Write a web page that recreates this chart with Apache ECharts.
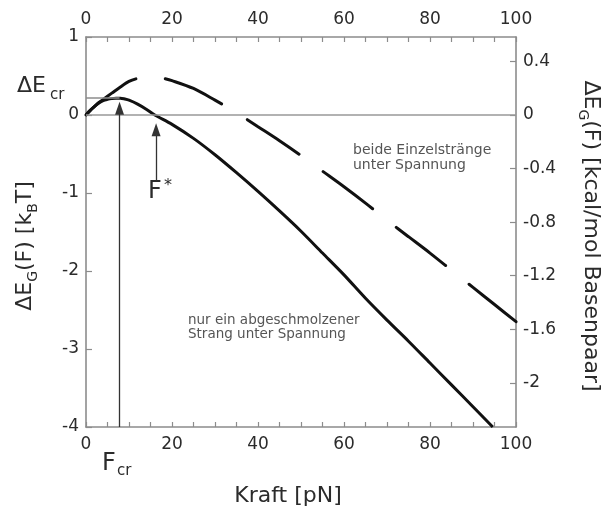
<!DOCTYPE html>
<html>
<head>
<meta charset="utf-8">
<script src="https://cdn.jsdelivr.net/npm/echarts@6/dist/echarts.min.js"></script>
<style>
  html, body { margin: 0; padding: 0; background: #fff; }
  #chart { width: 603px; height: 512px; }
</style>
</head>
<body>
<div id="chart"></div>
<script>
// Force in pN, energy in k_B T
const forceBoth = [0, 1, 2, 3, 4, 6, 8, 10, 12, 14, 16, 18, 20, 25, 30, 35, 40, 45, 50, 55, 60, 65, 70, 75, 80, 85, 90, 95, 100];
const energyBoth = [0, 0.06, 0.11, 0.16, 0.2, 0.28, 0.36, 0.43, 0.47, 0.49, 0.49, 0.47, 0.44, 0.34, 0.19, 0.03, -0.15, -0.33, -0.52, -0.72, -0.92, -1.13, -1.35, -1.56, -1.77, -1.99, -2.21, -2.43, -2.65];

const forceSingle = [0, 1, 2, 3, 4, 5, 6, 7, 8, 9, 10, 12, 14, 16, 20, 25, 30, 35, 40, 45, 50, 55, 60, 65, 70, 75, 80, 85, 90, 94.6];
const energySingle = [0, 0.06, 0.11, 0.155, 0.185, 0.2, 0.21, 0.215, 0.215, 0.205, 0.19, 0.14, 0.075, 0, -0.12, -0.30, -0.51, -0.74, -0.98, -1.23, -1.49, -1.77, -2.05, -2.35, -2.63, -2.90, -3.18, -3.46, -3.74, -4.0];

// Axis ticks
const forceTicks = [0, 20, 40, 60, 80, 100];
const forceMinorTicks = [0, 5, 10, 15, 20, 25, 30, 35, 40, 45, 50, 55, 60, 65, 70, 75, 80, 85, 90, 95, 100];
const ktTicks = [-4, -3, -2, -1, 0, 1];
const kcalTicks = [0.4, 0, -0.4, -0.8, -1.2, -1.6, -2];

// Characteristic points
const Fcr = 7.8;
const Fstar = 16.3;
const dEcr = 0.215;

// 1 k_B T expressed in kcal/mol
const kcalPerKT = 0.5825;

const FONT = 'DejaVu Sans';
const AXIS_GRAY = '#8c8c8c';
const TEXT = '#2b2b2b';

const pairs = (xs, ys) => xs.map((x, i) => [x, ys[i]]);

const chart = echarts.init(document.getElementById('chart'), null, { renderer: 'canvas' });

const axisLine = { show: true, onZero: false, lineStyle: { color: AXIS_GRAY, width: 1.6 } };
const tickStyle = { lineStyle: { color: AXIS_GRAY, width: 1.2 } };
const labelStyle = { color: TEXT, fontFamily: FONT, fontSize: 17 };

const xAxisBase = {
  type: 'value', min: forceTicks[0], max: forceTicks[forceTicks.length - 1], interval: 5,
  axisLine: axisLine,
  axisTick: Object.assign({ inside: true, length: 5, customValues: forceMinorTicks }, tickStyle),
  minorTick: { show: false },
  splitLine: { show: false },
  axisLabel: Object.assign({ margin: 9, customValues: forceTicks, formatter: v => String(v) }, labelStyle)
};

const option = {
  animation: false,
  backgroundColor: '#fff',
  grid: { left: 86, right: 87, top: 37, bottom: 85 },
  xAxis: [
    Object.assign({ position: 'bottom' }, xAxisBase),
    Object.assign({ position: 'top' }, xAxisBase)
  ],
  yAxis: [
    {
      type: 'value', position: 'left', min: ktTicks[0], max: ktTicks[ktTicks.length - 1], interval: 1,
      axisLine: axisLine,
      axisTick: Object.assign({ inside: true, length: 6, customValues: ktTicks }, tickStyle),
      minorTick: { show: false },
      splitLine: { show: false },
      axisLabel: Object.assign({ margin: 7, customValues: ktTicks, formatter: v => String(v) }, labelStyle)
    },
    {
      type: 'value', position: 'right',
      min: ktTicks[0] * kcalPerKT, max: ktTicks[ktTicks.length - 1] * kcalPerKT,
      axisLine: axisLine,
      axisTick: Object.assign({ inside: true, length: 6, customValues: kcalTicks }, tickStyle),
      minorTick: { show: false },
      splitLine: { show: false },
      axisLabel: Object.assign({ margin: 7, customValues: kcalTicks, formatter: v => String(v) }, labelStyle)
    }
  ],
  series: [
    {
      name: 'beide Einzelstränge unter Spannung',
      type: 'line', xAxisIndex: 0, yAxisIndex: 0,
      data: pairs(forceBoth, energyBoth),
      showSymbol: false, smooth: 0.3,
      lineStyle: { color: '#111', width: 3, type: [62, 30], cap: 'round' }
    },
    {
      name: 'nur ein abgeschmolzener Strang unter Spannung',
      type: 'line', xAxisIndex: 0, yAxisIndex: 0,
      data: pairs(forceSingle, energySingle),
      showSymbol: false, smooth: 0.3,
      lineStyle: { color: '#111', width: 3 }
    },
    {
      // reference lines and arrows
      type: 'line', xAxisIndex: 0, yAxisIndex: 0, data: [], clip: false,
      markLine: {
        silent: true, animation: false,
        symbol: ['none', 'none'],
        label: { show: false },
        data: [
          [
            { coord: [0, 0], lineStyle: { color: '#999', width: 1.6, type: 'solid' } },
            { coord: [100, 0] }
          ],
          [
            { coord: [0, dEcr], lineStyle: { color: '#8c8c8c', width: 1.6, type: 'solid' } },
            { coord: [Fcr, dEcr] }
          ],
          [
            { coord: [Fcr, -4], lineStyle: { color: '#333', width: 1.3, type: 'solid' } },
            { coord: [Fcr, 0.085], symbol: 'triangle', symbolSize: [9, 13] }
          ],
          [
            { coord: [Fstar, -0.84], lineStyle: { color: '#333', width: 1.3, type: 'solid' } },
            { coord: [Fstar, -0.19], symbol: 'triangle', symbolSize: [9, 13] }
          ]
        ]
      }
    }
  ],
  graphic: [
    // axis titles
    {
      type: 'text', x: 27, y: 246, rotation: Math.PI / 2,
      style: {
        text: '{m|ΔE}{s|G}{m|(F) [k}{s|B}{m|T]}',
        align: 'center', verticalAlign: 'middle',
        rich: {
          m: { fontFamily: FONT, fontSize: 22, fill: TEXT, verticalAlign: 'bottom', padding: [0, 0, 4, 0] },
          s: { fontFamily: FONT, fontSize: 14, fill: TEXT, verticalAlign: 'bottom' }
        }
      }
    },
    {
      type: 'text', x: 589, y: 236, rotation: -Math.PI / 2,
      style: {
        text: '{m|ΔE}{s|G}{m|(F) [kcal/mol Basenpaar]}',
        align: 'center', verticalAlign: 'middle',
        rich: {
          m: { fontFamily: FONT, fontSize: 22, fill: TEXT, verticalAlign: 'bottom', padding: [0, 0, 4, 0] },
          s: { fontFamily: FONT, fontSize: 14, fill: TEXT, verticalAlign: 'bottom' }
        }
      }
    },
    {
      type: 'text', x: 288, y: 496,
      style: { text: 'Kraft [pN]', fontFamily: FONT, fontSize: 22, fill: TEXT, align: 'center', verticalAlign: 'middle' }
    },
    // point labels
    { type: 'text', x: 17, y: 86, style: { text: 'ΔE', fontFamily: FONT, fontSize: 22, fill: TEXT, verticalAlign: 'middle' } },
    { type: 'text', x: 50, y: 95, style: { text: 'cr', fontFamily: FONT, fontSize: 15, fill: TEXT, verticalAlign: 'middle' } },
    { type: 'text', x: 102, y: 464, style: { text: 'F', fontFamily: FONT, fontSize: 24, fill: TEXT, verticalAlign: 'middle' } },
    { type: 'text', x: 117, y: 471, style: { text: 'cr', fontFamily: FONT, fontSize: 15, fill: TEXT, verticalAlign: 'middle' } },
    { type: 'text', x: 148, y: 192, style: { text: 'F', fontFamily: FONT, fontSize: 24, fill: TEXT, verticalAlign: 'middle' } },
    { type: 'text', x: 164, y: 186, style: { text: '*', fontFamily: FONT, fontSize: 16, fill: TEXT, verticalAlign: 'middle' } },
    // curve annotations
    {
      type: 'text', x: 353, y: 158,
      style: { text: 'beide Einzelstränge\nunter Spannung', fontFamily: FONT, fontSize: 14, lineHeight: 15, fill: '#555', verticalAlign: 'middle' }
    },
    {
      type: 'text', x: 188, y: 327,
      style: { text: 'nur ein abgeschmolzener\nStrang unter Spannung', fontFamily: FONT, fontSize: 13.5, lineHeight: 14, fill: '#555', verticalAlign: 'middle' }
    }
  ]
};

chart.setOption(option);
</script>
</body>
</html>
